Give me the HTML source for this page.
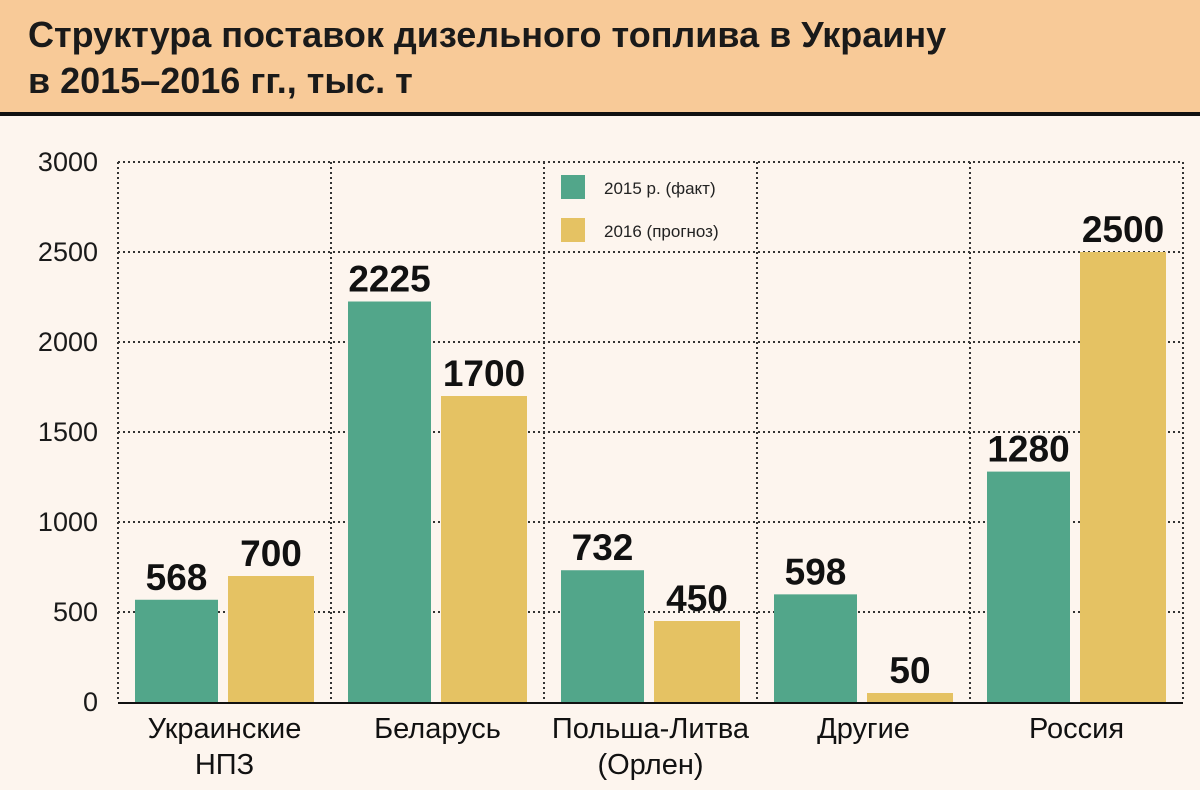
<!DOCTYPE html>
<html><head><meta charset="utf-8"><style>
body{margin:0;width:1200px;height:790px;background:#fdf5ee;font-family:"Liberation Sans",sans-serif;overflow:hidden}
#hdr{position:absolute;left:0;top:0;width:1200px;height:112px;background:#f8ca98;border-bottom:4px solid #111}
#hdr div{position:absolute;left:28px;top:12px;font-size:36px;font-weight:bold;line-height:46px;color:#1a1a1a}
svg{position:absolute;left:0;top:0}
</style></head><body>
<div id="hdr"><div>Структура поставок дизельного топлива в Украину<br>в 2015–2016 гг., тыс. т</div></div>
<svg id="c" width="1200" height="790"></svg>
<script>
const categories=[["Украинские","НПЗ"],["Беларусь"],["Польша-Литва","(Орлен)"],["Другие"],["Россия"]];
const series2015=[568,2225,732,598,1280];
const series2016=[700,1700,450,50,2500];
const ticks=[0,500,1000,1500,2000,2500,3000];
const legendLabels=["2015 р. (факт)","2016 (прогноз)"];
const colors=["#52a68a","#e5c263"];
const svg=document.getElementById('c');const NS='http://www.w3.org/2000/svg';
const x0=118,x1=1183,y0=702,yTop=162,maxV=3000;
const gw=(x1-x0)/categories.length;
function y(v){return y0-(y0-yTop)*v/maxV;}
function gx(i){return x0+i*gw;}
function el(t,a,txt){const e=document.createElementNS(NS,t);for(const k in a)e.setAttribute(k,a[k]);if(txt!=null)e.textContent=txt;svg.appendChild(e);return e;}
ticks.forEach(t=>{
 if(t>0){const l=el('line',{x1:x0,x2:x1,y1:y(t),y2:y(t),stroke:'#333','stroke-width':2,'stroke-dasharray':'2 3'});
 
 }
 const tx=el('text',{x:98,y:y(t)+9,'text-anchor':'end','font-size':27,fill:'#1a1a1a'},t);
 
 
});
for(let i=0;i<=categories.length;i++){
 const l=el('line',{x1:gx(i),x2:gx(i),y1:yTop,y2:y0,stroke:'#333','stroke-width':2,'stroke-dasharray':'2 3'});
 
 
}
categories.forEach((c,i)=>{
 const vals=[series2015[i],series2016[i]];
 vals.forEach((v,j)=>{
  const bx=gx(i)+(j===0?17:110),bw=j===0?83:86;
  const r=el('rect',{x:bx,y:y(v),width:bw,height:y0-y(v),fill:colors[j]});
  
  
  const t=el('text',{x:bx+bw/2,y:y(v)-10,'text-anchor':'middle','font-size':37,'font-weight':'bold',fill:'#111'},v);
  
  
 });
 c.forEach((line,k)=>{
  const t=el('text',{x:gx(i)+gw/2,y:738+k*36,'text-anchor':'middle','font-size':29,fill:'#111'},line);
  
  
 });
});
const ax=el('line',{x1:x0,x2:x1,y1:y0+1,y2:y0+1,stroke:'#111','stroke-width':2});


legendLabels.forEach((lb,j)=>{
 const r=el('rect',{x:561,y:175+j*43,width:24,height:24,fill:colors[j]});
 
 
 const t=el('text',{x:604,y:194+j*43,'font-size':17,fill:'#222'},lb);
 
 
});
</script>
</body></html>
